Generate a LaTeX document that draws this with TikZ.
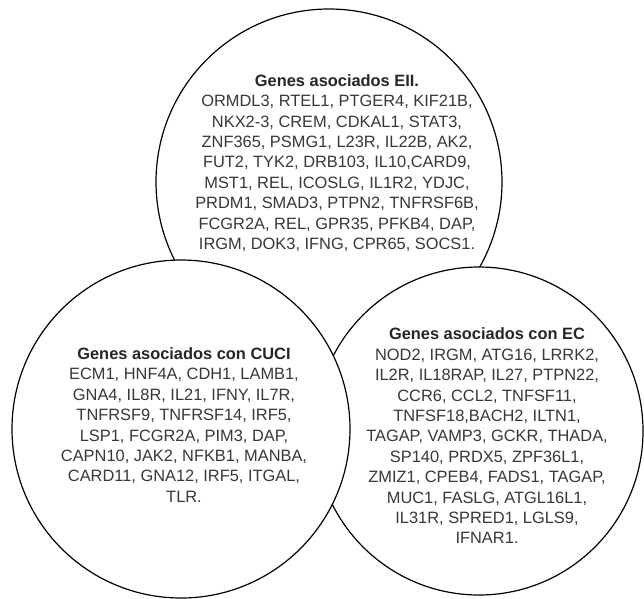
\documentclass[tikz,border=0pt]{standalone}
\usepackage{fontspec}
\setmainfont{Liberation Sans}
\usepackage{tikz}
\usetikzlibrary{positioning}

\begin{document}
\begin{tikzpicture}[
  x=1pt, y=-1pt,
  geneset/.style={circle, draw=black, line width=1.2pt, fill=white, inner sep=0pt},
  genelist/.style={align=center, text=black!78, font=\fontsize{16.4}{20.4}\selectfont}
]
  \useasboundingbox (0,0) rectangle (644,598);

  \node[geneset, minimum size=346pt] (eii) at (329,182) {};
  \node[geneset, minimum size=328pt] (ec) at (479,431) {};
  \node[geneset, minimum size=338pt] (cuci) at (181,429) {};

  \node[genelist] (eiitxt) at (337,163) {{\bfseries\color{black!85}Genes asociados EII.}\\
    ORMDL3, RTEL1, PTGER4, KIF21B,\\
    NKX2-3, CREM, CDKAL1, STAT3,\\
    ZNF365, PSMG1, L23R, IL22B, AK2,\\
    FUT2, TYK2, DRB103, IL10,CARD9,\\
    MST1, REL, ICOSLG, IL1R2, YDJC,\\
    PRDM1, SMAD3, PTPN2, TNFRSF6B,\\
    FCGR2A, REL, GPR35, PFKB4, DAP,\\
    IRGM, DOK3, IFNG, CPR65, SOCS1.};

  \node[genelist] (cucitxt) at (184,425) {{\bfseries\color{black!85}Genes asociados con CUCI}\\
    ECM1, HNF4A, CDH1, LAMB1,\\
    GNA4, IL8R, IL21, IFNY, IL7R,\\
    TNFRSF9, TNFRSF14, IRF5,\\
    LSP1, FCGR2A, PIM3, DAP,\\
    CAPN10, JAK2, NFKB1, MANBA,\\
    CARD11, GNA12, IRF5, ITGAL,\\
    TLR.};

  \node[genelist] (ectxt) at (487,436) {{\bfseries\color{black!85}Genes asociados con EC}\\
    NOD2, IRGM, ATG16, LRRK2,\\
    IL2R, IL18RAP, IL27, PTPN22,\\
    CCR6, CCL2, TNFSF11,\\
    TNFSF18,BACH2, ILTN1,\\
    TAGAP, VAMP3, GCKR, THADA,\\
    SP140, PRDX5, ZPF36L1,\\
    ZMIZ1, CPEB4, FADS1, TAGAP,\\
    MUC1, FASLG, ATGL16L1,\\
    IL31R, SPRED1, LGLS9,\\
    IFNAR1.};
\end{tikzpicture}
\end{document}
